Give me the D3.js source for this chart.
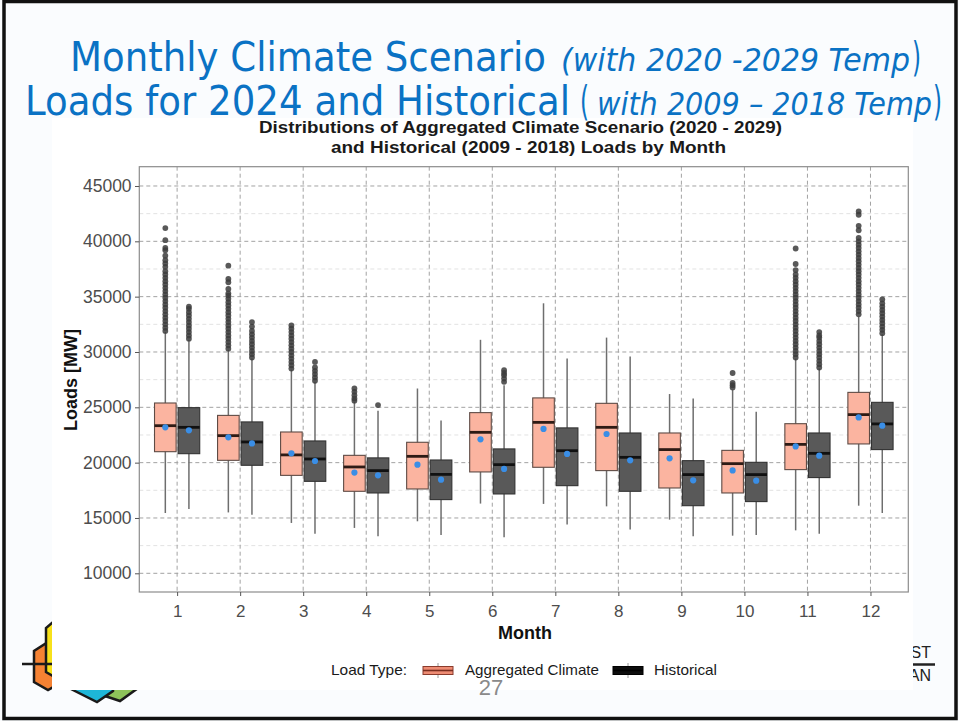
<!DOCTYPE html>
<html><head><meta charset="utf-8">
<script src="https://cdn.jsdelivr.net/npm/d3@7/dist/d3.min.js"></script>
<style>html,body{margin:0;padding:0;background:#fff;} svg{display:block}</style>
</head><body>
<svg id="c" width="959" height="721"></svg>
<script>
// ---------- data ----------
const months = ["1","2","3","4","5","6","7","8","9","10","11","12"];
const yTicks = [10000,15000,20000,25000,30000,35000,40000,45000];
const yMinorTicks = [12500,17500,22500,27500,32500,37500,42500];

const climateLow    = [15450,15500,14550,14100,14700,16300,16270,16050,14850,13400,13880,16110];
const climateQ1     = [20990,20210,18850,17410,17620,19160,19580,19280,17710,17260,19370,21690];
const climateMedian = [23340,22440,20700,19610,20570,22740,23640,23190,21180,19910,21650,24340];
const climateQ3     = [25390,24270,22770,20660,21840,24520,25850,25360,22680,21110,23520,26350];
const climateHigh   = [31800,30200,28400,25500,26700,31100,34400,31300,26200,26600,29400,33200];
const climateMean   = [23190,22290,20840,19100,19820,22110,23050,22590,20390,19300,21470,24090];
const climateOutliers = [
  [31900,32200,32500,32800,33100,33400,33700,34000,34300,34600,34900,35200,35500,35800,36100,36400,36700,37000,37300,37700,38000,38300,38700,39200,39400,40100,41200],
  [30300,30600,30900,31200,31500,31800,32100,32400,32700,33000,33300,33600,33900,34200,34500,34800,35100,35300,35700,36300,36600,37800],
  [28500,28800,29100,29400,29700,30000,30300,30600,30900,31200,31500,31800,32100,32400],
  [25600,25800,26100,26400,26700],
  [],
  [],
  [],
  [],
  [],
  [26800,27000,27200,28100],
  [29500,29800,30100,30400,30700,31000,31300,31600,31900,32200,32500,32800,33100,33400,33700,34000,34300,34600,34900,35200,35500,35800,36100,36400,36700,37000,37400,37950,39350],
  [33400,33700,34000,34300,34600,34900,35200,35500,35800,36100,36400,36700,37000,37300,37600,37900,38200,38500,38800,39100,39400,39700,40000,40300,41000,41400,42400,42700]
];

const histLow    = [15820,15300,13580,13340,13470,13250,14400,13950,13340,13470,13580,15450];
const histQ1     = [20810,19760,18310,17260,16660,17170,17920,17410,16110,16480,18650,21180];
const histMedian = [23190,21870,20330,19280,18940,19820,21080,20480,18920,18920,20840,23500];
const histQ3     = [24970,23680,21960,20430,20240,21240,23140,22680,20180,20030,22680,25450];
const histHigh   = [31100,29400,27300,24700,23800,27000,29400,29600,25800,24600,28500,31600];
const histMean   = [22920,21740,20150,18850,18460,19430,20790,20210,18400,18370,20630,23340];
const histOutliers = [
  [31200,31500,31800,32100,32400,32700,33000,33300,33600,33900,34100],
  [29500,29800,30100,30400,30700,31000,31300,31600,31900,32300,32700],
  [27400,27700,28000,28300,28600,29100],
  [25200],
  [],
  [27300,27600,27900,28100,28350],
  [],
  [],
  [],
  [],
  [28600,28900,29200,29500,29800,30100,30400,30700,31000,31300,31500,31800],
  [31700,32000,32300,32600,32900,33200,33500,33800,34100,34400,34750]
];

const seriesNames = ["Aggregated Climate","Historical"];

// ---------- drawing ----------
const svg = d3.select("#c");
const W = 959, H = 721;

// slide background
svg.append("rect").attr("x",0).attr("y",0).attr("width",W).attr("height",H).attr("fill","#FAFCFE");

// left logo (partly hidden behind chart image)
const logo = svg.append("g").attr("stroke","#1a1a1a").attr("stroke-width",2.5).attr("stroke-linejoin","miter");
logo.append("polygon").attr("points","105,696 120,701 138,688 138,668 105,668").attr("fill","#8DC35A");
logo.append("polygon").attr("points","55,681 97,702 113,691 113,668 55,668").attr("fill","#1EB6D8");
logo.append("polygon").attr("points","48,642 62,650 62,682 48,690 34,682 34,651").attr("fill","#F58233");
logo.append("polygon").attr("points","60,616 74,624 74,672 60,680 46,672 46,628").attr("fill","#F7E11B");
logo.append("line").attr("x1",22).attr("x2",70).attr("y1",664).attr("y2",664);

// right logo fragments
svg.append("text").attr("x",931).attr("y",658).attr("text-anchor","end")
  .attr("font-family","Liberation Sans, Arial, sans-serif").attr("font-size",16).attr("fill","#222").text("ST");
svg.append("line").attr("x1",900).attr("x2",935).attr("y1",664.5).attr("y2",664.5).attr("stroke","#222").attr("stroke-width",2.5);
svg.append("text").attr("x",931).attr("y",681).attr("text-anchor","end")
  .attr("font-family","Liberation Sans, Arial, sans-serif").attr("font-size",16).attr("fill","#222").text("AN");

// chart image background
svg.append("rect").attr("x",52).attr("y",118).attr("width",861).attr("height",572).attr("fill","#ffffff");

// scales
const panel = {l:139.3, r:908.3, t:166.7, b:592};
const x = d3.scalePoint().domain(months).range([panel.l, panel.r]).padding(0.6);
const y = d3.scaleLinear().domain([8310, 46744]).range([panel.b, panel.t]);
const off = 11.8, bw = 21.6;

const g = svg.append("g");
g.append("rect").attr("x",panel.l).attr("y",panel.t).attr("width",panel.r-panel.l).attr("height",panel.b-panel.t).attr("fill","#fff");

// minor grid
g.selectAll("line.ymin").data(yMinorTicks).join("line")
  .attr("x1",panel.l).attr("x2",panel.r).attr("y1",d=>y(d)).attr("y2",d=>y(d))
  .attr("stroke","#E2E2E2").attr("stroke-width",1).attr("stroke-dasharray","4,3");
// major grid
g.selectAll("line.ymaj").data(yTicks).join("line")
  .attr("x1",panel.l).attr("x2",panel.r).attr("y1",d=>y(d)).attr("y2",d=>y(d))
  .attr("stroke","#A2A2A2").attr("stroke-width",1).attr("stroke-dasharray","4,3");
g.selectAll("line.xmaj").data(months).join("line")
  .attr("x1",d=>x(d)).attr("x2",d=>x(d)).attr("y1",panel.t).attr("y2",panel.b)
  .attr("stroke","#A2A2A2").attr("stroke-width",1).attr("stroke-dasharray","4,3");

function drawSeries(low,q1,med,q3,high,mean,outs,dx,fill,stroke,medColor){
  const s = g.append("g");
  months.forEach((m,i)=>{
    const cx = x(m)+dx;
    s.append("line").attr("x1",cx).attr("x2",cx).attr("y1",y(low[i])).attr("y2",y(high[i]))
      .attr("stroke","#6E6E6E").attr("stroke-width",1.5);
    outs[i].forEach(v=>{
      s.append("circle").attr("cx",cx).attr("cy",y(v)).attr("r",2.9)
        .attr("fill","#3C3C3C").attr("fill-opacity",0.85);
    });
    s.append("rect").attr("x",cx-bw/2).attr("y",y(q3[i])).attr("width",bw).attr("height",y(q1[i])-y(q3[i]))
      .attr("fill",fill).attr("stroke",stroke).attr("stroke-width",1.1);
    s.append("line").attr("x1",cx-bw/2).attr("x2",cx+bw/2).attr("y1",y(med[i])).attr("y2",y(med[i]))
      .attr("stroke",medColor).attr("stroke-width",2.8);
    s.append("circle").attr("cx",cx).attr("cy",y(mean[i])).attr("r",3.1).attr("fill","#3A8EE6");
  });
}
drawSeries(climateLow,climateQ1,climateMedian,climateQ3,climateHigh,climateMean,climateOutliers,-off,"#FBB4A0","#5E4B45","#2E1B15");
drawSeries(histLow,histQ1,histMedian,histQ3,histHigh,histMean,histOutliers,off,"#595959","#333333","#111111");

// panel border
g.append("rect").attr("x",panel.l).attr("y",panel.t).attr("width",panel.r-panel.l).attr("height",panel.b-panel.t)
  .attr("fill","none").attr("stroke","#8C8C8C").attr("stroke-width",1.2);

// axes
const font = "Liberation Sans, Arial, Helvetica, sans-serif";
const ya = g.append("g").attr("transform",`translate(${panel.l},0)`)
  .call(d3.axisLeft(y).tickValues(yTicks).tickSize(4.3).tickPadding(3.4).tickFormat(d3.format("d")));
ya.select(".domain").remove();
ya.selectAll("line").attr("stroke","#555");
ya.selectAll("text").attr("font-family",font).attr("font-size",17.5).attr("fill","#4D4D4D");
const xa = g.append("g").attr("transform",`translate(0,${panel.b})`)
  .call(d3.axisBottom(x).tickSize(4).tickPadding(9));
xa.select(".domain").remove();
xa.selectAll("line").attr("stroke","#555");
xa.selectAll("text").attr("font-family",font).attr("font-size",17).attr("fill","#4D4D4D");

// axis titles
svg.append("text").attr("x",525).attr("y",639).attr("text-anchor","middle")
  .attr("font-family",font).attr("font-weight","bold").attr("font-size",18).attr("fill","#111").text("Month");
svg.append("text").attr("transform","translate(77,380) rotate(-90)").attr("text-anchor","middle")
  .attr("font-family",font).attr("font-weight","bold").attr("font-size",18).attr("fill","#111").text("Loads [MW]");

// chart title
svg.append("text").attr("x",259).attr("y",133).attr("textLength",523).attr("lengthAdjust","spacingAndGlyphs")
  .attr("font-family",font).attr("font-weight","bold").attr("font-size",16.5).attr("fill","#1a1a1a")
  .text("Distributions of Aggregated Climate Scenario (2020 - 2029)");
svg.append("text").attr("x",331).attr("y",153).attr("textLength",395).attr("lengthAdjust","spacingAndGlyphs")
  .attr("font-family",font).attr("font-weight","bold").attr("font-size",16.5).attr("fill","#1a1a1a")
  .text("and Historical (2009 - 2018) Loads by Month");

// legend
const lg = svg.append("g").attr("font-family",font).attr("font-size",15).attr("fill","#1a1a1a");
lg.append("text").attr("x",331).attr("y",675).attr("textLength",76).attr("lengthAdjust","spacingAndGlyphs").text("Load Type:");
const keys = [{x:423,fill:"#EE8C74",stroke:"#8A3B2C",med:"#7A2E20"},{x:613,fill:"#0d0d0d",stroke:"#000",med:"#000"}];
keys.forEach(k=>{
  lg.append("line").attr("x1",k.x+15).attr("x2",k.x+15).attr("y1",663).attr("y2",678).attr("stroke","#9a9a9a").attr("stroke-width",1);
  lg.append("rect").attr("x",k.x).attr("y",666.5).attr("width",30).attr("height",8).attr("fill",k.fill).attr("stroke",k.stroke).attr("stroke-width",1);
  lg.append("line").attr("x1",k.x).attr("x2",k.x+30).attr("y1",670.5).attr("y2",670.5).attr("stroke",k.med).attr("stroke-width",1.6);
});
lg.append("text").attr("x",465).attr("y",675).attr("textLength",134).attr("lengthAdjust","spacingAndGlyphs").text(seriesNames[0]);
lg.append("text").attr("x",654).attr("y",675).attr("textLength",63).attr("lengthAdjust","spacingAndGlyphs").text(seriesNames[1]);

// page number
svg.append("text").attr("x",491).attr("y",695).attr("text-anchor","middle")
  .attr("font-family","Liberation Sans, Arial, sans-serif").attr("font-size",22).attr("fill","#8A8A8A").text("27");

// slide title
const tf = "DejaVu Sans, Verdana, sans-serif";
const blue = "#0A72C4";
function seg(xp, yp, len, size, italic, txt){
  svg.append("text").attr("x",xp).attr("y",yp).attr("textLength",len).attr("lengthAdjust","spacingAndGlyphs")
    .attr("font-family",tf).attr("font-size",size).attr("font-style",italic?"italic":"normal")
    .attr("fill",blue).text(txt);
}
seg(70, 71, 476, 41, false, "Monthly Climate Scenario");
seg(561, 71, 349, 32, true, "(with 2020 -2029 Temp");
seg(912, 71, 9, 41, false, ")");
seg(25, 115, 545, 41, false, "Loads for 2024 and Historical");
seg(580, 115, 9, 41, false, "(");
seg(597, 115, 335, 32, true, "with 2009 \u2013 2018 Temp");
seg(933, 115, 9, 41, false, ")");

// slide border
svg.append("rect").attr("x",4).attr("y",1.5).attr("width",952).attr("height",717)
  .attr("fill","none").attr("stroke","#111").attr("stroke-width",3.5);
</script>
</body></html>
